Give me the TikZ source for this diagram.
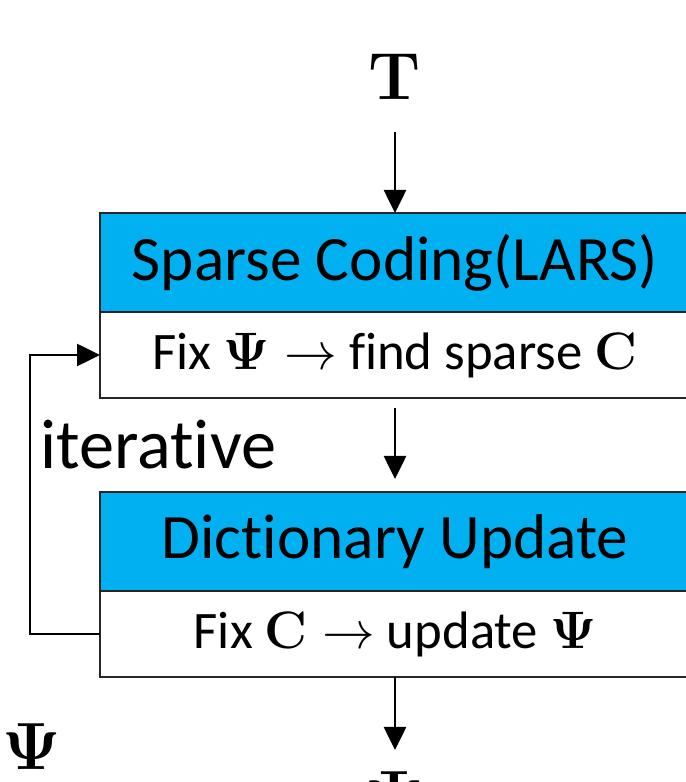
\RequirePackage{fix-cm}
\documentclass[tikz,border=0pt]{standalone}
\usepackage{amsmath,amssymb}
\usepackage[no-math]{fontspec}
\setmainfont[Ligatures=NoCommon]{Carlito}
\usepackage{tikz}
\usetikzlibrary{arrows.meta,positioning}
\usepackage{xcolor}
\definecolor{hdrblue}{RGB}{0,176,240}

\begin{document}
\begin{tikzpicture}[>={Triangle[length=4.6mm,width=4.4mm]},line width=1.5pt,
  hdr/.style={draw=black!85,fill=hdrblue,minimum width=11.8cm,minimum height=1.98cm,
    outer sep=0pt,inner sep=0pt,font=\fontsize{36}{40}\selectfont},
  body/.style={draw=black!85,fill=white,minimum width=11.8cm,minimum height=1.72cm,
    outer sep=0pt,inner sep=0pt,font=\fontsize{30}{34}\selectfont},
  sym/.style={inner sep=0pt,font=\fontsize{38}{42}\selectfont}]
\path[use as bounding box,clip] (0,0) rectangle (13.72,15.64);
\node[sym] (tin) at (7.9,14.1) {$\mathbf{T}$};
\node[hdr] (lars) at (7.9,10.39) {Sparse Coding(LARS)};
\node[body,below=0pt of lars] (fixpsi) {Fix $\mathbf{\Psi}\rightarrow$ find sparse $\mathbf{C}$};
\node[hdr,below=1.88cm of fixpsi] (dict) {Dictionary Update};
\node[body,below=0pt of dict] (fixc) {Fix $\mathbf{C}\rightarrow$ update $\mathbf{\Psi}$};
\node[sym,anchor=north] (psiout) at (7.9,0.24) {$\mathbf{\Psi}$};
\node[sym,anchor=west] (psileft) at (0.02,0.7) {$\mathbf{\Psi}$};
\node[anchor=west,font=\fontsize{40}{44}\selectfont,inner sep=0pt] (iter) at (0.78,6.74) {iterative};
% flow through the two stages
\draw[->,shorten <=0.62cm] (tin) -- (lars);
\draw[->,shorten <=0.2cm,shorten >=0.26cm] (fixpsi) -- (dict);
\draw[->,shorten >=0.4cm] (fixc) -- (psiout);
% loop back
\draw[->] (fixc.west) -- ++(-1.4,0) |- (fixpsi.west);
\end{tikzpicture}
\end{document}
